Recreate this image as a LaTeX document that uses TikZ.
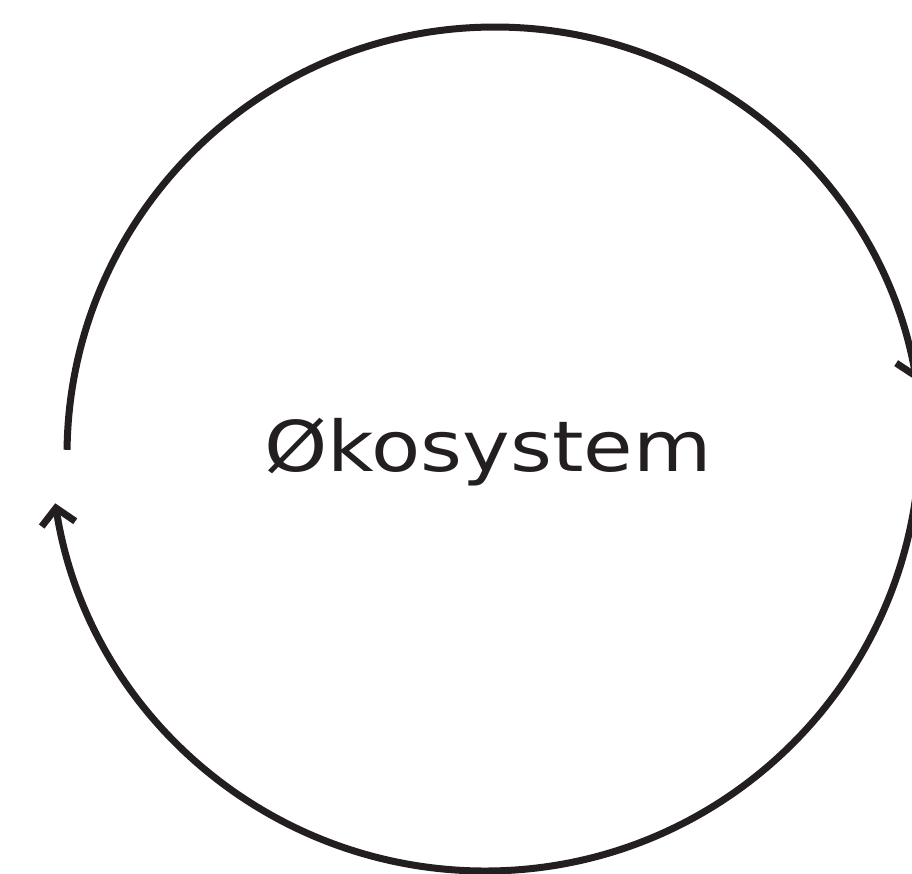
\documentclass[tikz,border=0pt]{standalone}
\usepackage{fontspec}
\setmainfont{DejaVu Sans}
\usetikzlibrary{arrows.meta}
\definecolor{ink}{HTML}{231F20}
\tikzset{
  cyclearc/.style={draw=ink, line width=7pt, -{Straight Barb[length=16pt,width=34pt]}},
  label/.style={text=ink, font=\fontsize{70}{84}\selectfont, inner sep=0pt, anchor=base}
}
\begin{document}
\begin{tikzpicture}[x=1pt,y=-1pt]
  \useasboundingbox (0,0) rectangle (912,873);
  \clip (0,0) rectangle (912,873);
  \coordinate (cu) at (495,455);
  \coordinate (cl) at (485,436);
  \node[label] (eco) at (488,471) {\scalebox{1.15}[1]{Økosystem}};
  \draw[cyclearc] (cu) ++(180.7:428) arc[start angle=180.7, end angle=350, radius=428];
  \draw[cyclearc] (cl) ++(2:435) arc[start angle=2, end angle=171.1, radius=435];
\end{tikzpicture}
\end{document}
